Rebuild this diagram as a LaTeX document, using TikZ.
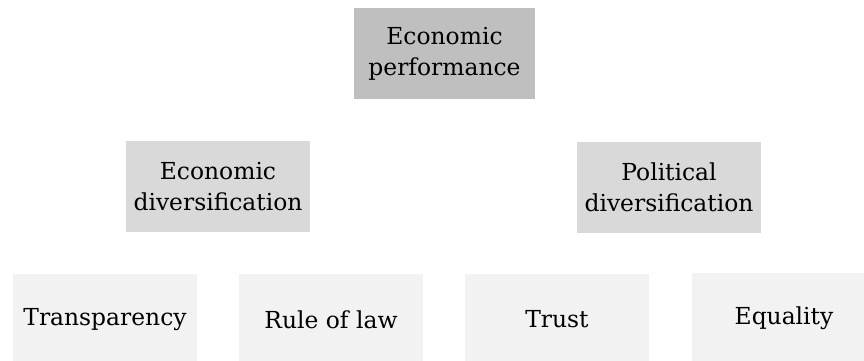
\documentclass[tikz,border=0pt]{standalone}
\usepackage{fontspec}
\setmainfont{DejaVu Serif}
\definecolor{topgray}{HTML}{BFBFBF}
\definecolor{midgray}{HTML}{D9D9D9}
\definecolor{lowgray}{HTML}{F2F2F2}
\begin{document}
\begin{tikzpicture}[x=1pt,y=1pt,
  box/.style={rectangle, draw=none, minimum height=91pt, inner sep=0pt,
    align=center, font=\fontsize{23.4}{31}\selectfont, text=black},
  topbox/.style={box, fill=topgray, minimum width=181pt},
  midbox/.style={box, fill=midgray, minimum width=184pt},
  lowbox/.style={box, fill=lowgray, minimum width=184pt}]
\useasboundingbox (0,0) rectangle (864,360);
\node[topbox] (perf) at (444.5,306.5) {Economic\\performance};
\node[midbox] (econ) at (218,173.5) {Economic\\diversification};
\node[midbox] (pol) at (669,172.5) {Political\\diversification};
\node[lowbox] (trans) at (105,40.5) {Transparency};
\node[lowbox] (rule) at (331,40.5) {Rule of law};
\node[lowbox] (trust) at (557,40.5) {Trust};
\node[lowbox] (equal) at (784,42) {Equality};
\end{tikzpicture}
\end{document}
